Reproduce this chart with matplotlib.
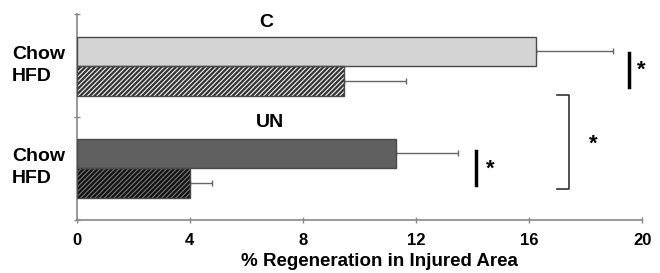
import matplotlib
matplotlib.use("Agg")
import matplotlib.pyplot as plt
import numpy as np

plt.rcParams['font.family'] = ['Liberation Sans', 'DejaVu Sans']
plt.rcParams['font.weight'] = 'bold'
plt.rcParams['hatch.linewidth'] = 1.6

groups = ["C", "UN"]
diets = ["Chow", "HFD"]
values = [16.25, 9.45, 11.3, 4.0]
errors = [2.7, 2.2, 2.2, 0.8]
xticks = [0, 4, 8, 12, 16, 20]
xlabel = "% Regeneration in Injured Area"

fig = plt.figure(figsize=(6.6, 2.73), dpi=100)
ax = fig.add_axes([0.1162, 0.1941, 0.8570, 0.7546])

centers = [1.636, 1.350, 0.646, 0.360]
h = 0.286
faces = ["#d4d4d4", "#f2f2f2", "#606060", "#777777"]
hatches = [None, "///////", None, "///////"]
hcols = ["#555555", "#333333", "#404040", "#111111"]

for i in range(4):
    ax.barh(centers[i], values[i], height=h, color=faces[i], edgecolor=hcols[i],
            hatch=hatches[i], linewidth=0, zorder=2)
    ax.barh(centers[i], values[i], height=h, fill=False, edgecolor="#4a4a4a",
            linewidth=1.0, zorder=3)
    ax.errorbar(values[i], centers[i], xerr=[[0], [errors[i]]], fmt="none",
                ecolor="#666666", elinewidth=1.0, capsize=2, capthick=1.0, zorder=1)

ax.set_xlim(0, 20)
ax.set_ylim(0, 2)
ax.set_xticks(xticks)
ax.set_xticklabels([str(t) for t in xticks], fontsize=12, fontweight='bold')
ax.set_yticks([0, 1, 2])
ax.set_yticklabels([])
ax.tick_params(axis='both', length=4, width=1, color="#888888", direction='inout')
ax.tick_params(axis='x', pad=7)
for s in ["top", "right"]:
    ax.spines[s].set_visible(False)
for s in ["left", "bottom"]:
    ax.spines[s].set_color("#888888")
    ax.spines[s].set_linewidth(1.2)
ax.set_xlabel(xlabel, fontsize=13.5, fontweight='bold')
ax.xaxis.set_label_coords(0.5345, -0.16)

# group labels
ax.text(6.70, 1.92, groups[0], fontsize=14, fontweight='bold', ha='center', va='center')
ax.text(6.85, 0.95, groups[1], fontsize=14, fontweight='bold', ha='center', va='center')

# diet labels
tr = ax.get_yaxis_transform()
for yc, name in zip(centers, diets + diets):
    ax.text(-0.114, yc + (-0.03 if name == "Chow" else 0.045), name, transform=tr,
            fontsize=14, fontweight='bold', ha='left', va='center')

# significance markers
ax.plot([19.53, 19.53], [1.29, 1.62], color="black", lw=2.5)
ax.text(19.95, 1.45, "*", fontsize=16, fontweight='bold', ha='center', va='center')
ax.plot([14.12, 14.12], [0.34, 0.67], color="black", lw=2.5)
ax.text(14.62, 0.49, "*", fontsize=16, fontweight='bold', ha='center', va='center')
ax.plot([16.98, 17.41, 17.41, 16.98], [1.214, 1.214, 0.30, 0.30], color="#333333", lw=1.2)
ax.text(18.27, 0.74, "*", fontsize=16, fontweight='bold', ha='center', va='center')

fig.savefig("out.png", dpi=100)
